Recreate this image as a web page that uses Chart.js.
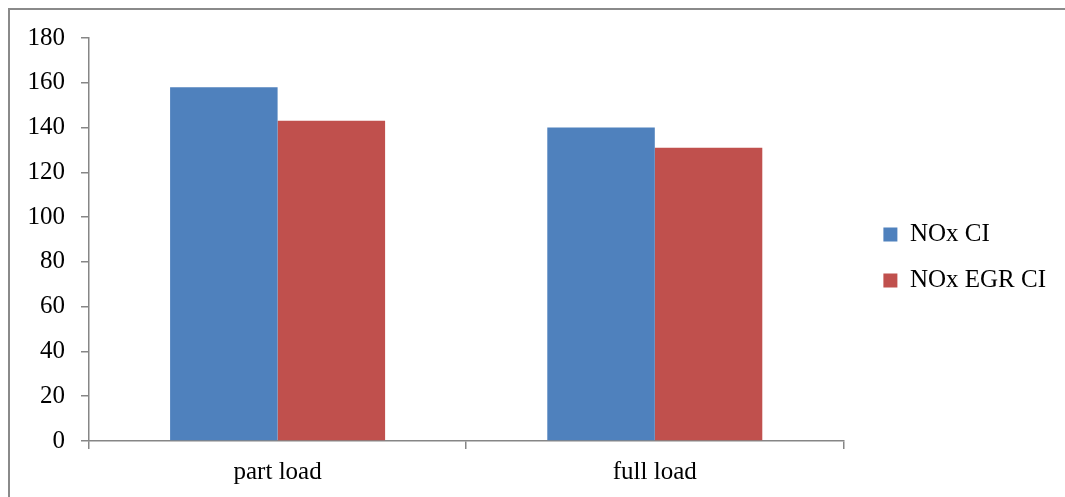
<!DOCTYPE html>
<html>
<head>
<meta charset="utf-8">
<script src="https://cdn.jsdelivr.net/npm/chart.js@4"></script>
<style>
  html, body { margin: 0; padding: 0; background: #fff; }
  #frame {
    position: absolute; left: 8px; top: 8px; width: 1100px; height: 600px;
    border-top: 2px solid #8a8a8a; border-left: 2px solid #8a8a8a;
  }
  #wrap { position: absolute; left: 0; top: 0; width: 1065px; height: 497px; }
</style>
</head>
<body>
<div id="frame"></div>
<div id="wrap"><canvas id="chart"></canvas></div>
<script>
// chart data
const categories = ["part load", "full load"];
const noxCI = [158, 140];
const noxEgrCI = [143, 131];
const yTicks = [0, 20, 40, 60, 80, 100, 120, 140, 160, 180];

const axisColor = "#868686";
const font = { family: "'Liberation Serif', 'Times New Roman', serif", size: 25 };

// nudge the legend a bit away from the plot, like the original
const legendNudge = {
  id: "legendNudge",
  afterLayout(chart) {
    const lg = chart.legend;
    if (!lg) return;
    lg.left += 19;
    lg.right += 19;
    lg.top -= 10;
    lg.bottom -= 10;
  },
};

const ctx = document.getElementById("chart").getContext("2d");
new Chart(ctx, {
  type: "bar",
  data: {
    labels: categories,
    datasets: [
      {
        label: "NOx CI",
        data: noxCI,
        backgroundColor: "#4f81bd",
        borderWidth: 0,
      },
      {
        label: "NOx EGR CI",
        data: noxEgrCI,
        backgroundColor: "#c0504d",
        borderWidth: 0,
      },
    ],
  },
  options: {
    responsive: true,
    maintainAspectRatio: false,
    animation: false,
    categoryPercentage: 0.57,
    barPercentage: 1.0,
    layout: { padding: { left: 0, top: 38, right: 28, bottom: 0 } },
    plugins: {
      tooltip: { enabled: false },
      legend: {
        position: "right",
        labels: {
          color: "#000",
          font: font,
          boxWidth: 14,
          boxHeight: 14,
          padding: 21,
        },
      },
    },
    scales: {
      x: {
        grid: {
          display: true,
          drawOnChartArea: false,
          drawTicks: true,
          tickLength: 8,
          lineWidth: 1.5,
          color: axisColor,
          offset: true,
        },
        border: { color: axisColor, width: 1.5 },
        ticks: { color: "#000", font: font, padding: 8 },
        afterFit: function (scale) {
          scale.height = 56;
        },
      },
      y: {
        min: 0,
        max: 180,
        afterBuildTicks: function (scale) {
          scale.ticks = yTicks.map((v) => ({ value: v }));
        },
        grid: {
          display: true,
          drawOnChartArea: false,
          drawTicks: true,
          tickLength: 8,
          lineWidth: 1.5,
          color: axisColor,
        },
        border: { color: axisColor, width: 1.5 },
        ticks: { color: "#000", font: font, padding: 16 },
        afterFit: function (scale) {
          scale.width = 89;
        },
      },
    },
  },
  plugins: [legendNudge],
});
</script>
</body>
</html>
